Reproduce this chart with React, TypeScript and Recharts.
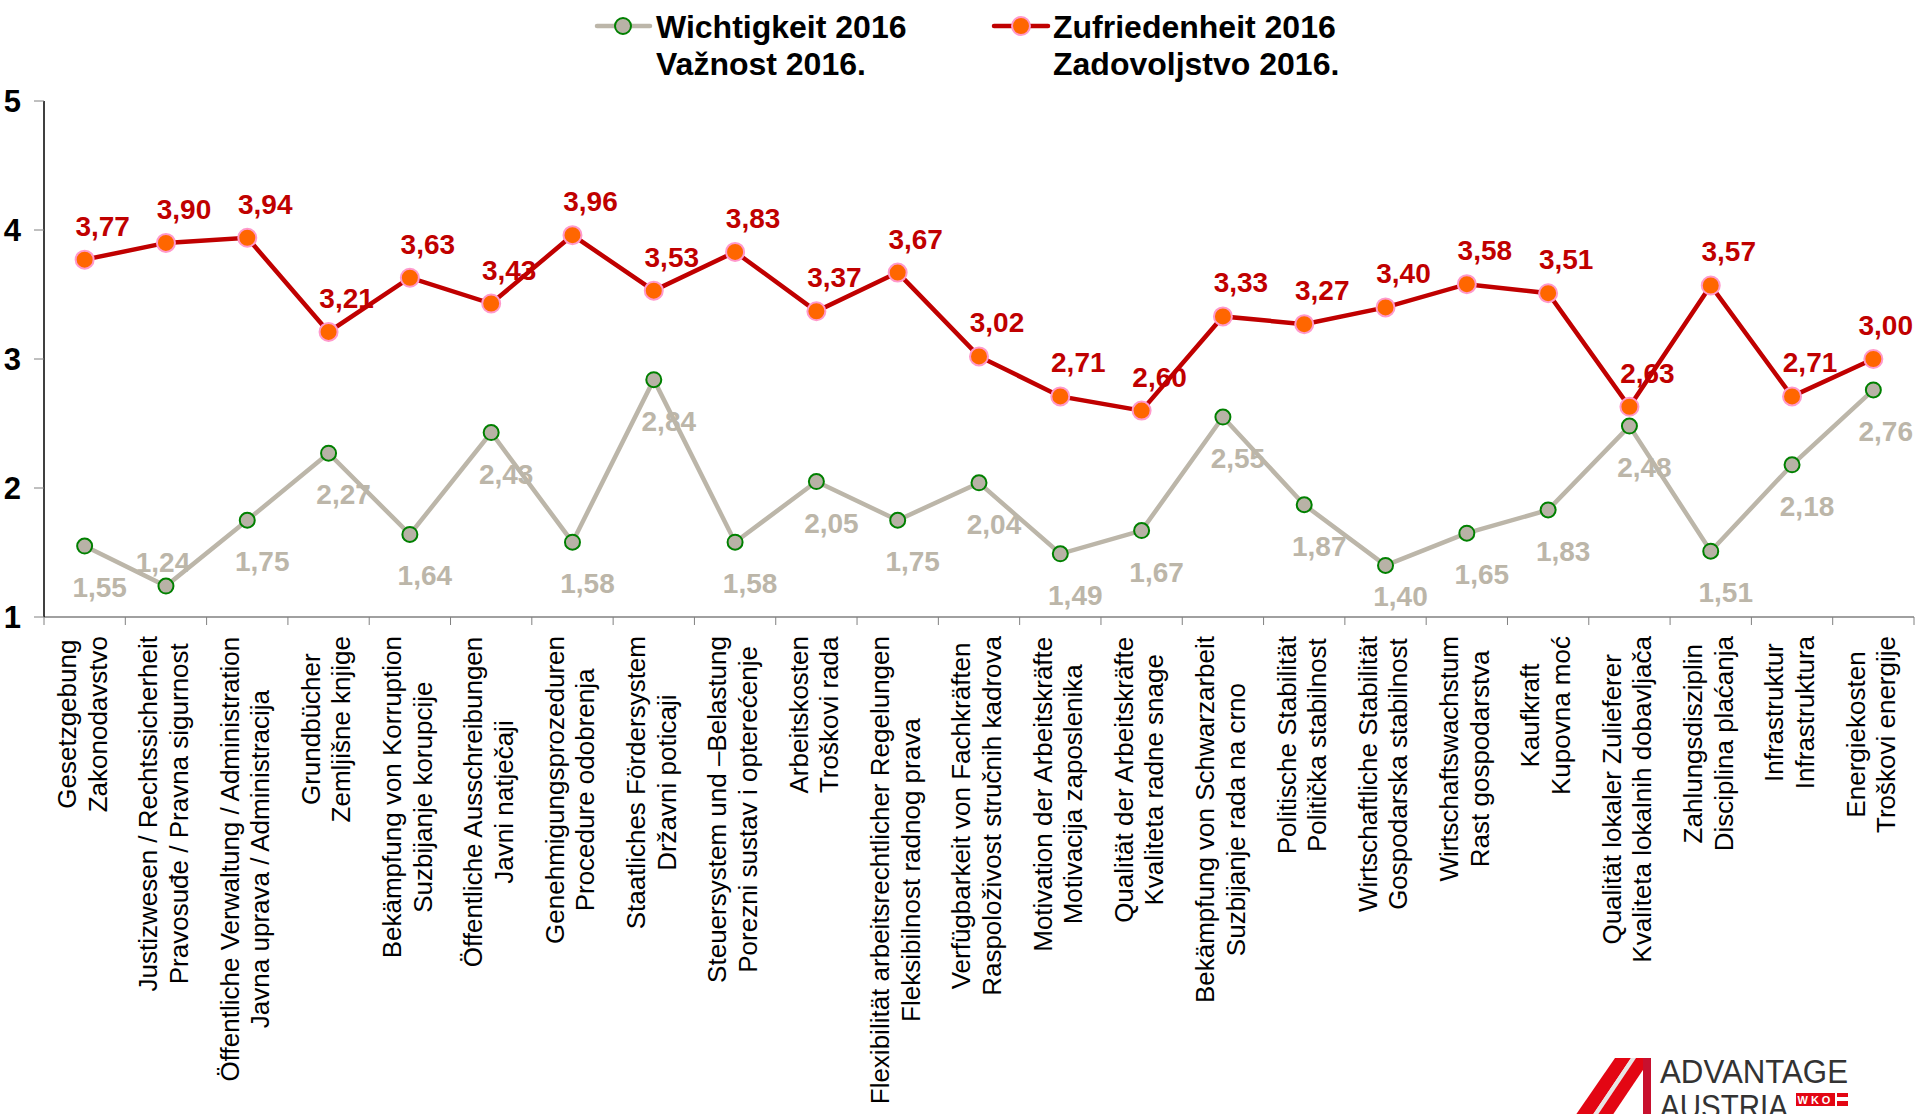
import { LineChart, Line, XAxis, YAxis, LabelList } from 'recharts'

const categoriesDe = [
  'Gesetzgebung',
  'Justizwesen / Rechtssicherheit',
  'Öffentliche Verwaltung / Administration',
  'Grundbücher',
  'Bekämpfung von Korruption',
  'Öffentliche Ausschreibungen',
  'Genehmigungsprozeduren',
  'Staatliches Fördersystem',
  'Steuersystem und –Belastung',
  'Arbeitskosten',
  'Flexibilität arbeitsrechtlicher Regelungen',
  'Verfügbarkeit von Fachkräften',
  'Motivation der Arbeitskräfte',
  'Qualität der Arbeitskräfte',
  'Bekämpfung von Schwarzarbeit',
  'Politische Stabilität',
  'Wirtschaftliche Stabilität',
  'Wirtschaftswachstum',
  'Kaufkraft',
  'Qualität lokaler Zulieferer',
  'Zahlungsdisziplin',
  'Infrastruktur',
  'Energiekosten',
]

const categoriesHr = [
  'Zakonodavstvo',
  'Pravosuđe / Pravna sigurnost',
  'Javna uprava / Administracija',
  'Zemljišne knjige',
  'Suzbijanje korupcije',
  'Javni natječaji',
  'Procedure odobrenja',
  'Državni poticaji',
  'Porezni sustav i opterećenje',
  'Troškovi rada',
  'Fleksibilnost radnog prava',
  'Raspoloživost stručnih kadrova',
  'Motivacija zaposlenika',
  'Kvaliteta radne snage',
  'Suzbijanje rada na crno',
  'Politička stabilnost',
  'Gospodarska stabilnost',
  'Rast gospodarstva',
  'Kupovna moć',
  'Kvaliteta lokalnih dobavljača',
  'Disciplina plaćanja',
  'Infrastruktura',
  'Troškovi energije',
]

// Wichtigkeit 2016 / Važnost 2016.
const importance = [
  1.55, 1.24, 1.75, 2.27, 1.64, 2.43, 1.58, 2.84, 1.58, 2.05, 1.75, 2.04,
  1.49, 1.67, 2.55, 1.87, 1.40, 1.65, 1.83, 2.48, 1.51, 2.18, 2.76,
]

// Zufriedenheit 2016 / Zadovoljstvo 2016.
const satisfaction = [
  3.77, 3.90, 3.94, 3.21, 3.63, 3.43, 3.96, 3.53, 3.83, 3.37, 3.67, 3.02,
  2.71, 2.60, 3.33, 3.27, 3.40, 3.58, 3.51, 2.63, 3.57, 2.71, 3.00,
]

const yTicks = [1, 2, 3, 4, 5]

const data = categoriesDe.map((de, i) => ({
  de,
  hr: categoriesHr[i],
  w: importance[i],
  z: satisfaction[i],
}))

const W = 1915
const H = 1114
const PLOT_LEFT = 44
const PLOT_RIGHT = 1914
const PLOT_TOP = 101
const PLOT_BOTTOM = 617
const BAND = (PLOT_RIGHT - PLOT_LEFT) / categoriesDe.length
const LABEL_TOP = 636
const FONT = "'Liberation Sans', Arial, sans-serif"
const VALUE_FS = 28

const GREY = '#BCB6A9'
const RED = '#C00000'

let ctx: CanvasRenderingContext2D | null = null
function textWidth(s: string, font = `26px ${FONT}`) {
  if (!ctx) ctx = document.createElement('canvas').getContext('2d')
  if (!ctx) return s.length * 13
  ctx.font = font
  return ctx.measureText(s).width
}

const fmt = (v: number) => v.toFixed(2).replace('.', ',')

function CategoryTick(props: any) {
  const { x, index } = props
  const de = categoriesDe[index]
  const hr = categoriesHr[index]
  const len = Math.max(textWidth(de), textWidth(hr))
  const cy = LABEL_TOP + len / 2
  const isLast = index === categoriesDe.length - 1
  return (
    <g>
      <line x1={x - BAND / 2} x2={x - BAND / 2} y1={PLOT_BOTTOM} y2={PLOT_BOTTOM + 8} stroke="#808080" />
      {isLast && (
        <line x1={x + BAND / 2} x2={x + BAND / 2} y1={PLOT_BOTTOM} y2={PLOT_BOTTOM + 8} stroke="#808080" />
      )}
      <text transform={`rotate(-90 ${x} ${cy})`} textAnchor="middle" fontSize={26} fill="#000">
        <tspan x={x} y={cy - 8.7}>{de}</tspan>
        <tspan x={x} y={cy + 21.9}>{hr}</tspan>
      </text>
    </g>
  )
}

function pointOf(props: any) {
  const x = props.x ?? props.viewBox?.x
  const y = props.y ?? props.viewBox?.y
  return { x, y }
}

// keep a value label inside the picture's right edge
function clampX(cx: number, s: string) {
  const half = textWidth(s, `700 ${VALUE_FS}px ${FONT}`) / 2
  return Math.min(cx, W - half - 2)
}

function SatisfactionLabel(props: any) {
  const { x, y } = pointOf(props)
  if (x == null || y == null) return null
  const s = fmt(Number(props.value))
  return (
    <text x={clampX(x + 18, s)} y={y - 24} textAnchor="middle" fontSize={VALUE_FS} fontWeight={700} fill={RED}>
      {s}
    </text>
  )
}

function ImportanceLabel(props: any) {
  const { x, y } = pointOf(props)
  if (x == null || y == null) return null
  const s = fmt(Number(props.value))
  // below the marker, kept inside the plot; flip above when there is no room
  let by = Math.min(y + 51, PLOT_BOTTOM - 11)
  let dx = 15
  if (by - 20 < y + 9) {
    by = y - 14
    dx = -3
  }
  return (
    <text x={clampX(x + dx, s)} y={by} textAnchor="middle" fontSize={VALUE_FS} fontWeight={700} fill={GREY}>
      {s}
    </text>
  )
}

function LegendBox() {
  return (
    <svg width={W} height={90} style={{ position: 'absolute', left: 0, top: 0 }}>
      <g fontFamily={FONT} fontWeight={700} fontSize={32} fill="#000">
        <line x1={597} x2={650} y1={26} y2={26} stroke={GREY} strokeWidth={4.5} strokeLinecap="round" />
        <circle cx={623} cy={26} r={8} fill="#B8B2A6" stroke="#008000" strokeWidth={2} />
        <text x={656} y={38}>Wichtigkeit 2016</text>
        <text x={656} y={75}>Važnost 2016.</text>

        <line x1={994} x2={1048} y1={26} y2={26} stroke={RED} strokeWidth={4.5} strokeLinecap="round" />
        <circle cx={1021} cy={26} r={9} fill="#FF6600" stroke="#FF99CC" strokeWidth={2} />
        <text x={1053} y={38}>Zufriedenheit 2016</text>
        <text x={1053} y={75}>Zadovoljstvo 2016.</text>
      </g>
    </svg>
  )
}

function Logo() {
  return (
    <svg width={W} height={H} style={{ position: 'absolute', left: 0, top: 0, pointerEvents: 'none' }}>
      {/* red "A" stripes */}
      <polygon points="1615,1058 1631,1058 1592,1116 1575,1116" fill="#E30613" />
      <polygon points="1631,1058 1636,1058 1597,1116 1592,1116" fill="#E6E6E6" />
      <polygon points="1636,1058 1651,1058 1612,1116 1597,1116" fill="#E30613" />
      <rect x={1643} y={1058} width={8} height={58} fill="#C8102E" />
      <text x={1660} y={1083} fontFamily={FONT} fontSize={34} fill="#333" textLength={188} lengthAdjust="spacingAndGlyphs">
        ADVANTAGE
      </text>
      <text x={1660} y={1118} fontFamily={FONT} fontSize={34} fill="#333" textLength={128} lengthAdjust="spacingAndGlyphs">
        AUSTRIA
      </text>
      <rect x={1796} y={1093} width={39} height={13} fill="#E30613" />
      <text x={1815.5} y={1104} textAnchor="middle" fontFamily={FONT} fontWeight={700} fontSize={11} fill="#fff" letterSpacing={3}>
        WKO
      </text>
      <rect x={1837} y={1093} width={11} height={4} fill="#E30613" />
      <rect x={1837} y={1101} width={11} height={5} fill="#E30613" />
    </svg>
  )
}

export default function App() {
  return (
    <div
      style={{
        position: 'absolute', left: 0, top: 0, width: W, height: H,
        background: '#fff', overflow: 'hidden', fontFamily: FONT,
      }}
    >
      <LineChart
        width={W}
        height={H}
        data={data}
        margin={{ top: PLOT_TOP, right: W - PLOT_RIGHT, bottom: 0, left: 0 }}
      >
        <XAxis
          dataKey="de"
          type="category"
          interval={0}
          height={H - PLOT_BOTTOM}
          padding={{ left: BAND / 2, right: BAND / 2 }}
          axisLine={{ stroke: '#808080', strokeWidth: 1.5 }}
          tickLine={false}
          tick={<CategoryTick />}
        />
        <YAxis
          type="number"
          domain={[1, 5]}
          ticks={yTicks}
          interval={0}
          width={PLOT_LEFT}
          tickSize={10}
          tickMargin={13}
          axisLine={{ stroke: '#000', strokeWidth: 1.5 }}
          tickLine={{ stroke: '#808080' }}
          tick={{ fontSize: 31, fontWeight: 700, fill: '#000' }}
        />

        {/* Wichtigkeit */}
        <Line
          type="linear"
          dataKey="w"
          stroke={GREY}
          strokeWidth={4.5}
          dot={{ r: 7.5, fill: '#B8B2A6', stroke: '#008000', strokeWidth: 2 }}
          activeDot={false}
          isAnimationActive={false}
        >
          <LabelList dataKey="w" content={ImportanceLabel} />
        </Line>

        {/* Zufriedenheit */}
        <Line
          type="linear"
          dataKey="z"
          stroke={RED}
          strokeWidth={4.5}
          dot={{ r: 9, fill: '#FF6600', stroke: '#FF99CC', strokeWidth: 2 }}
          activeDot={false}
          isAnimationActive={false}
        >
          <LabelList dataKey="z" content={SatisfactionLabel} />
        </Line>
      </LineChart>

      <LegendBox />
      <Logo />
    </div>
  )
}
